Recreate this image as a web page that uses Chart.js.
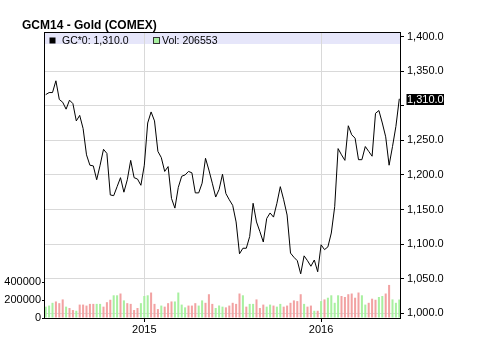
<!DOCTYPE html>
<html>
<head>
<meta charset="utf-8">
<script src="https://cdn.jsdelivr.net/npm/chart.js@4/dist/chart.umd.min.js"></script>
<style>
  body { margin: 0; background: #fff; }
  canvas { display: block; }
</style>
</head>
<body>
<canvas id="grafico" width="493" height="343"></canvas>
<script>
const titulo = "GCM14 - Gold (COMEX)";
const leyendaPrecio = "GC*0: 1,310.0";
const leyendaVol = "Vol: 206553";

// semanas (viernes)
const semanas = [
  "2014-06-13","2014-06-20","2014-06-27","2014-07-04","2014-07-11","2014-07-18","2014-07-25","2014-08-01",
  "2014-08-08","2014-08-15","2014-08-22","2014-08-29","2014-09-05","2014-09-12","2014-09-19","2014-09-26",
  "2014-10-03","2014-10-10","2014-10-17","2014-10-24","2014-10-31","2014-11-07","2014-11-14","2014-11-21",
  "2014-11-28","2014-12-05","2014-12-12","2014-12-19","2014-12-26",
  "2015-01-02","2015-01-09","2015-01-16","2015-01-23","2015-01-30","2015-02-06","2015-02-13","2015-02-20",
  "2015-02-27","2015-03-06","2015-03-13","2015-03-20","2015-03-27","2015-04-03","2015-04-10","2015-04-17",
  "2015-04-24","2015-05-01","2015-05-08","2015-05-15","2015-05-22","2015-05-29","2015-06-05","2015-06-12",
  "2015-06-19","2015-06-26","2015-07-03","2015-07-10","2015-07-17","2015-07-24","2015-07-31","2015-08-07",
  "2015-08-14","2015-08-21","2015-08-28","2015-09-04","2015-09-11","2015-09-18","2015-09-25","2015-10-02",
  "2015-10-09","2015-10-16","2015-10-23","2015-10-30","2015-11-06","2015-11-13","2015-11-20","2015-11-27",
  "2015-12-04","2015-12-11","2015-12-18","2015-12-25",
  "2016-01-01","2016-01-08","2016-01-15","2016-01-22","2016-01-29","2016-02-05","2016-02-12","2016-02-19",
  "2016-02-26","2016-03-04","2016-03-11","2016-03-18","2016-03-25","2016-04-01","2016-04-08","2016-04-15",
  "2016-04-22","2016-04-29","2016-05-06","2016-05-13","2016-05-20","2016-05-27","2016-06-03","2016-06-10"
];

const precios = [
  1316, 1319, 1319, 1336, 1309, 1305, 1295, 1308, 1303, 1278, 1286, 1267, 1229, 1214, 1213, 1193,
  1214, 1237, 1231, 1171, 1170, 1183, 1196, 1175, 1193, 1221, 1196, 1194, 1185, 1214, 1275, 1291,
  1278, 1234, 1225, 1205, 1212, 1166, 1152, 1182, 1198, 1200, 1205, 1203, 1174, 1174, 1188, 1224,
  1207, 1188, 1168, 1179, 1201, 1173, 1164, 1156, 1132, 1086, 1094, 1094, 1111, 1159, 1132, 1118,
  1103, 1137, 1145, 1139, 1159, 1183, 1164, 1142, 1087, 1081, 1076, 1057, 1083, 1076, 1068, 1077,
  1060, 1099, 1092, 1096, 1116, 1154, 1238, 1229, 1221, 1271, 1258, 1253, 1222, 1222, 1241, 1234,
  1227, 1289, 1293, 1275, 1255, 1214, 1241, 1270, 1310
];

const volumenes = [
  127000, 139000, 170000, 185000, 166000, 208000, 127000, 112000, 89000, 81000, 150000, 150000,
  139000, 158000, 158000, 158000, 158000, 127000, 177000, 204000, 254000, 254000, 274000, 197000,
  166000, 158000, 89000, 112000, 166000, 246000, 254000, 285000, 158000, 100000, 139000, 127000,
  166000, 185000, 185000, 285000, 150000, 119000, 139000, 139000, 166000, 139000, 197000, 170000,
  266000, 158000, 112000, 140000, 127000, 119000, 139000, 170000, 158000, 274000, 254000, 127000,
  158000, 158000, 208000, 112000, 150000, 127000, 150000, 139000, 127000, 158000, 127000, 139000,
  170000, 197000, 189000, 266000, 158000, 127000, 139000, 81000, 81000, 189000, 208000, 227000,
  254000, 170000, 254000, 246000, 235000, 266000, 274000, 227000, 285000, 254000, 150000, 170000,
  216000, 204000, 235000, 246000, 274000, 370000, 208000, 170000, 206553
];

// S = semana alcista (verde), B = bajista (rojo)
const subeBaja = [
  "S","S","S","B","B","B","S","B","B","S","B","B","B","B","B","S","S","B","B","B","S","S","B","S",
  "B","B","B","B","S","S","S","B","B","B","S","B","B","B","S","S","S","S","B","B","B","S","S","B",
  "B","B","S","S","S","B","B","B","B","B","S","B","S","S","B","B","B","S","S","B","S","S","B","B",
  "B","B","B","B","S","B","B","S","B","S","B","S","S","S","S","B","B","B","B","B","B","S","S","B",
  "B","B","S","S","B","B","S","S","S"
];

const preciosTicks = [1000, 1050, 1100, 1150, 1200, 1250, 1300, 1350, 1400];
const volumenTicks = [0, 200000, 400000];

const fuente = "'Liberation Sans', Arial, sans-serif";
const colorGrilla = '#d9d9d9';
const ultimo = precios[precios.length - 1];

function inicioAnio(i) {
  return i > 0 && semanas[i].slice(0, 4) !== semanas[i - 1].slice(0, 4);
}

function fmtPrecio(v) {
  return v.toLocaleString('en-US', { minimumFractionDigits: 1, maximumFractionDigits: 1 });
}

const decoracion = {
  id: 'decoracion',
  beforeDraw(chart) {
    const { ctx, chartArea: a } = chart;
    ctx.save();
    ctx.fillStyle = '#e6e6fa';
    ctx.fillRect(a.left, a.top, a.right - a.left, 12);
    ctx.restore();
  },
  afterDraw(chart) {
    const { ctx, chartArea: a } = chart;
    ctx.save();
    // marco
    ctx.strokeStyle = '#000';
    ctx.lineWidth = 1;
    ctx.strokeRect(a.left + 0.5, a.top + 0.5, a.right - a.left - 1, a.bottom - a.top);

    // titulo
    ctx.fillStyle = '#000';
    ctx.font = "bold 12px " + fuente;
    ctx.textBaseline = 'alphabetic';
    ctx.textAlign = 'left';
    ctx.fillText(titulo, 22, 28.5);

    // leyenda
    ctx.font = "10.5px " + fuente;
    ctx.fillStyle = '#000';
    ctx.fillRect(49.5, 37.5, 6, 6);
    ctx.fillText(leyendaPrecio, 62, 44);
    ctx.fillStyle = '#a8f0a0';
    ctx.fillRect(153.5, 37.5, 6, 6);
    ctx.strokeStyle = '#333';
    ctx.strokeRect(153.5, 37.5, 6, 6);
    ctx.fillStyle = '#000';
    ctx.fillText(leyendaVol, 162, 44);

    // etiqueta del ultimo precio
    const y = Math.round(chart.scales.y.getPixelForValue(ultimo));
    ctx.fillStyle = '#000';
    ctx.fillRect(406.5, y - 5, 37.5, 11);
    ctx.fillStyle = '#fff';
    ctx.font = "11px " + fuente;
    ctx.textBaseline = 'middle';
    ctx.fillText(fmtPrecio(ultimo), 407, y + 0.5);
    ctx.restore();
  }
};

new Chart(document.getElementById('grafico'), {
  type: 'bar',
  data: {
    labels: semanas,
    datasets: [
      {
        type: 'line',
        label: 'GC*0',
        data: precios,
        yAxisID: 'y',
        borderColor: '#000',
        borderWidth: 1,
        pointRadius: 0,
        tension: 0,
        fill: false,
        order: 1
      },
      {
        type: 'bar',
        label: 'Vol',
        data: volumenes,
        yAxisID: 'vol',
        backgroundColor: subeBaja.map(s => s === 'S' ? '#a8f0a0' : '#f2a2a2'),
        barPercentage: 0.6,
        categoryPercentage: 1,
        order: 2
      }
    ]
  },
  options: {
    responsive: false,
    animation: false,
    devicePixelRatio: 1,
    layout: { padding: { top: 32, left: 0, right: 0, bottom: 0 } },
    plugins: {
      legend: { display: false },
      tooltip: { enabled: false },
      title: { display: false }
    },
    scales: {
      x: {
        type: 'category',
        offset: true,
        border: { display: false },
        grid: {
          offset: false,
          color: c => inicioAnio(c.index) ? colorGrilla : 'rgba(0,0,0,0)',
          tickColor: c => inicioAnio(c.index) ? '#000' : 'rgba(0,0,0,0)',
          tickLength: 4
        },
        ticks: {
          autoSkip: false,
          maxRotation: 0,
          minRotation: 0,
          padding: 1,
          color: '#000',
          font: { family: fuente, size: 11 },
          callback: (v, i) => inicioAnio(i) ? semanas[i].slice(0, 4) : ''
        },
        afterFit: s => { s.height = 25; }
      },
      y: {
        position: 'right',
        min: 993.2,
        max: 1406.5,
        border: { display: false },
        grid: {
          color: c => (c.tick && c.tick.value === 1400) ? 'rgba(0,0,0,0)' : colorGrilla,
          tickColor: '#000',
          tickLength: 3
        },
        ticks: {
          padding: 3,
          color: '#000',
          font: { family: fuente, size: 11 },
          // la etiqueta del ultimo precio tapa la marca cercana
          callback: v => Math.abs(v - ultimo) < 15 ? '' : fmtPrecio(v)
        },
        afterBuildTicks: s => { s.ticks = preciosTicks.map(v => ({ value: v })); },
        afterFit: s => { s.width = 92; }
      },
      vol: {
        position: 'left',
        min: 0,
        max: 3200000,
        border: { display: false },
        grid: {
          drawOnChartArea: false,
          tickColor: '#000',
          tickLength: 2
        },
        ticks: {
          padding: 1,
          color: '#000',
          font: { family: fuente, size: 11 },
          callback: v => String(v)
        },
        afterBuildTicks: s => { s.ticks = volumenTicks.map(v => ({ value: v })); },
        afterFit: s => { s.width = 44; }
      }
    }
  },
  plugins: [decoracion]
});
</script>
</body>
</html>
